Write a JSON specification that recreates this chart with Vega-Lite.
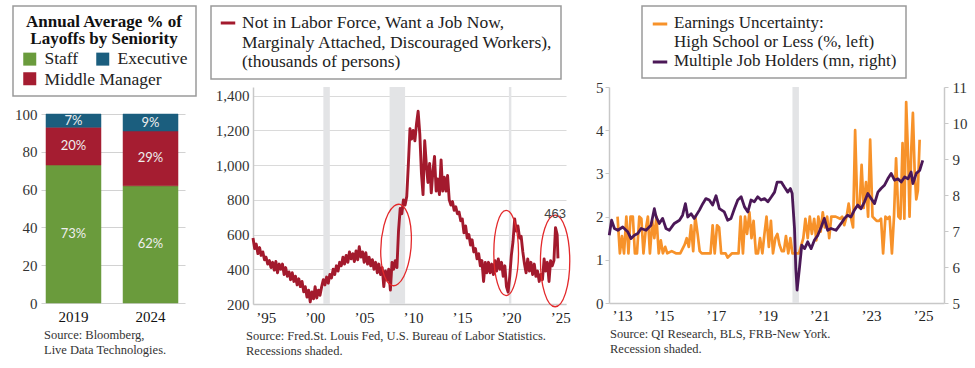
{
  "$schema": "https://vega.github.io/schema/vega-lite/v6.json",
  "padding": {"left": 12, "top": 5, "right": 5, "bottom": 5},
  "spacing": 43,
  "bounds": "flush",
  "resolve": {"scale": {"color": "independent", "stroke": "independent"}, "legend": {"color": "independent", "stroke": "independent"}},
  "config": {
    "view": {"stroke": null},
    "font": "Liberation Serif",
    "axis": {"labelFont": "Liberation Serif", "labelFontSize": 15, "labelColor": "#333333", "domainColor": "#c8c8c8", "domainWidth": 1.5, "tickColor": "#c8c8c8", "gridColor": "#dadada", "gridWidth": 1.2},
    "legend": {"labelFont": "Liberation Serif", "labelFontSize": 17.5, "labelColor": "#222222", "titleFont": "Liberation Serif", "strokeColor": "#9a9a9a", "strokeWidth": 1.5, "fillColor": "#ffffff", "cornerRadius": 0, "orient": "none", "labelLimit": 600},
    "title": {"font": "Liberation Serif", "fontSize": 12.5, "fontWeight": "normal", "color": "#333333", "anchor": "start", "orient": "bottom", "frame": "group", "offset": 5, "lineHeight": 14.5}
  },
  "hconcat": [
    {
      "width": 169,
      "height": 216,
      "title": {"text": ["Source: Bloomberg,", "Live Data Technologies."], "dx": 3},
      "data": {"values": [
        {"year": "2019", "level": "Staff", "rank": 1, "pct": 73},
        {"year": "2019", "level": "Middle Manager", "rank": 2, "pct": 20},
        {"year": "2019", "level": "Executive", "rank": 3, "pct": 7},
        {"year": "2024", "level": "Staff", "rank": 1, "pct": 62},
        {"year": "2024", "level": "Middle Manager", "rank": 2, "pct": 29},
        {"year": "2024", "level": "Executive", "rank": 3, "pct": 9}
      ]},
      "transform": [
        {"stack": "pct", "groupby": ["year"], "sort": [{"field": "rank", "order": "ascending"}], "as": ["y0", "y1"]},
        {"calculate": "(datum.y0 + datum.y1) / 2", "as": "ymid"},
        {"calculate": "datum.pct + '%'", "as": "lab"},
        {"calculate": "datum.level", "as": "tier"}
      ],
      "encoding": {
        "x": {"field": "year", "type": "nominal", "scale": {"paddingInner": 0.286, "paddingOuter": 0.24, "align": 0.135},
              "axis": {"title": null, "labelAngle": 0, "domain": false, "ticks": false, "labelPadding": 6, "labelColor": "#111111", "labelFontSize": 15}}
      },
      "layer": [
        {
          "mark": {"type": "bar", "strokeWidth": 0.5},
          "encoding": {
            "y": {"field": "y0", "type": "quantitative", "scale": {"domain": [0, 114.3], "nice": false},
                  "axis": {"title": null, "values": [0, 20, 40, 60, 80, 100], "grid": false, "domain": false, "ticks": true, "tickSize": -144, "tickColor": "#d2d2d2", "tickWidth": 1.2, "labelPadding": 148, "labelFontSize": 15, "zindex": 0}},
            "y2": {"field": "y1"},
            "color": {"field": "level", "type": "nominal",
                      "scale": {"domain": ["Staff", "Executive", "Middle Manager"], "range": ["#6a9b3c", "#1b5e7e", "#a51d31"]},
                      "legend": {"orient": "none", "legendX": -28, "legendY": -81, "direction": "horizontal",
                                 "title": ["Annual Average % of", "Layoffs by Seniority"], "titleFontSize": 17, "titleFontWeight": "bold", "titleColor": "#111111",
                                 "titleAnchor": "middle", "titleAlign": "center", "titleLineHeight": 17, "titlePadding": 2,
                                 "columns": 2, "columnPadding": 15, "rowPadding": 1,
                                 "labelExpr": "datum.label == 'Middle Manager' ? '' : datum.label",
                                 "symbolType": "square", "symbolSize": 169, "symbolStrokeWidth": 0, "symbolOpacity": 1,
                                 "labelFontSize": 17.5, "labelOffset": 6, "padding": 8}},
            "stroke": {"field": "tier", "type": "nominal",
                       "scale": {"domain": ["Middle Manager", "Staff", "Executive"], "range": ["#a51d31", "#6a9b3c", "#1b5e7e"]},
                       "legend": {"orient": "none", "legendX": -28, "legendY": -24, "direction": "horizontal", "title": null,
                                  "values": ["Middle Manager"], "strokeColor": "transparent", "fillColor": "transparent",
                                  "symbolType": "square", "symbolSize": 169, "symbolOpacity": 0, "symbolStrokeWidth": 0,
                                  "labelFontSize": 17.5, "labelOffset": 6, "padding": 8}}
          }
        },
        {
          "mark": {"type": "text", "font": "Lato", "fontSize": 13, "color": "#eeeeee"},
          "encoding": {
            "y": {"field": "ymid", "type": "quantitative"},
            "text": {"field": "lab"}
          }
        }
      ]
    },
    {
      "width": 313,
      "height": 217,
      "title": {"text": ["Source: Fred.St. Louis Fed, U.S. Bureau of Labor Statistics.", "Recessions shaded."], "dx": -7},
      "layer": [
        {
          "data": {"values": [{"s": 2001.17, "e": 2001.83}, {"s": 2007.92, "e": 2009.5}, {"s": 2020.08, "e": 2020.33}]},
          "mark": {"type": "rect", "color": "#e3e4e6"},
          "encoding": {
            "x": {"field": "s", "type": "quantitative", "scale": {"domain": [1994, 2025.9], "nice": false, "zero": false},
                  "axis": {"title": null, "values": [1995, 2000, 2005, 2010, 2015, 2020, 2025], "labelExpr": "'\u2019' + slice(format(datum.value, 'd'), 2)", "grid": false, "ticks": false, "labelPadding": 6, "labelOffset": 3, "labelColor": "#222222"}},
            "x2": {"field": "e"}
          }
        },
        {
          "data": {"values": [
            {"t":1994.0,"v":580},{"t":1994.17,"v":520},{"t":1994.33,"v":545},{"t":1994.5,"v":490},{"t":1994.67,"v":525},{"t":1994.83,"v":480},
            {"t":1995.0,"v":500},{"t":1995.17,"v":455},{"t":1995.33,"v":470},{"t":1995.5,"v":430},{"t":1995.67,"v":450},{"t":1995.83,"v":410},
            {"t":1996.0,"v":440},{"t":1996.17,"v":395},{"t":1996.33,"v":445},{"t":1996.5,"v":380},{"t":1996.67,"v":430},{"t":1996.83,"v":400},
            {"t":1997.0,"v":430},{"t":1997.17,"v":370},{"t":1997.33,"v":410},{"t":1997.5,"v":360},{"t":1997.67,"v":385},{"t":1997.83,"v":340},
            {"t":1998.0,"v":380},{"t":1998.17,"v":330},{"t":1998.33,"v":360},{"t":1998.5,"v":310},{"t":1998.67,"v":345},{"t":1998.83,"v":300},
            {"t":1999.0,"v":330},{"t":1999.17,"v":270},{"t":1999.33,"v":300},{"t":1999.5,"v":240},{"t":1999.67,"v":280},{"t":1999.83,"v":212},
            {"t":2000.0,"v":270},{"t":2000.17,"v":230},{"t":2000.33,"v":300},{"t":2000.5,"v":235},{"t":2000.67,"v":280},{"t":2000.83,"v":250},
            {"t":2001.0,"v":300},{"t":2001.17,"v":340},{"t":2001.33,"v":310},{"t":2001.5,"v":355},{"t":2001.67,"v":320},{"t":2001.83,"v":370},
            {"t":2002.0,"v":350},{"t":2002.17,"v":400},{"t":2002.33,"v":370},{"t":2002.5,"v":420},{"t":2002.67,"v":390},{"t":2002.83,"v":440},
            {"t":2003.0,"v":420},{"t":2003.17,"v":470},{"t":2003.33,"v":430},{"t":2003.5,"v":480},{"t":2003.67,"v":440},{"t":2003.83,"v":500},
            {"t":2004.0,"v":460},{"t":2004.17,"v":490},{"t":2004.33,"v":445},{"t":2004.5,"v":505},{"t":2004.67,"v":455},{"t":2004.83,"v":530},
            {"t":2005.0,"v":470},{"t":2005.17,"v":500},{"t":2005.33,"v":440},{"t":2005.5,"v":495},{"t":2005.67,"v":430},{"t":2005.83,"v":470},
            {"t":2006.0,"v":420},{"t":2006.17,"v":455},{"t":2006.33,"v":400},{"t":2006.5,"v":440},{"t":2006.67,"v":380},{"t":2006.83,"v":430},
            {"t":2007.0,"v":370},{"t":2007.17,"v":410},{"t":2007.33,"v":300},{"t":2007.5,"v":390},{"t":2007.67,"v":340},{"t":2007.83,"v":400},
            {"t":2008.0,"v":280},{"t":2008.17,"v":440},{"t":2008.33,"v":400},{"t":2008.5,"v":450},{"t":2008.67,"v":410},{"t":2008.83,"v":620},
            {"t":2009.0,"v":750},{"t":2009.17,"v":720},{"t":2009.33,"v":800},{"t":2009.5,"v":770},{"t":2009.67,"v":820},{"t":2009.83,"v":1000},
            {"t":2010.0,"v":1210},{"t":2010.17,"v":1150},{"t":2010.33,"v":1200},{"t":2010.5,"v":1140},{"t":2010.67,"v":1240},{"t":2010.83,"v":1310},
            {"t":2011.0,"v":1180},{"t":2011.17,"v":950},{"t":2011.33,"v":830},{"t":2011.5,"v":1140},{"t":2011.67,"v":1000},{"t":2011.83,"v":900},
            {"t":2012.0,"v":1010},{"t":2012.17,"v":840},{"t":2012.33,"v":960},{"t":2012.5,"v":1050},{"t":2012.67,"v":850},{"t":2012.83,"v":920},
            {"t":2013.0,"v":830},{"t":2013.17,"v":1030},{"t":2013.33,"v":850},{"t":2013.5,"v":930},{"t":2013.67,"v":850},{"t":2013.83,"v":940},
            {"t":2014.0,"v":800},{"t":2014.17,"v":770},{"t":2014.33,"v":790},{"t":2014.5,"v":740},{"t":2014.67,"v":760},{"t":2014.83,"v":720},
            {"t":2015.0,"v":730},{"t":2015.17,"v":680},{"t":2015.33,"v":690},{"t":2015.5,"v":610},{"t":2015.67,"v":650},{"t":2015.83,"v":580},
            {"t":2016.0,"v":600},{"t":2016.17,"v":540},{"t":2016.33,"v":570},{"t":2016.5,"v":500},{"t":2016.67,"v":520},{"t":2016.83,"v":460},
            {"t":2017.0,"v":490},{"t":2017.17,"v":420},{"t":2017.33,"v":450},{"t":2017.5,"v":330},{"t":2017.67,"v":440},{"t":2017.83,"v":380},
            {"t":2018.0,"v":440},{"t":2018.17,"v":380},{"t":2018.33,"v":430},{"t":2018.5,"v":370},{"t":2018.67,"v":450},{"t":2018.83,"v":390},
            {"t":2019.0,"v":460},{"t":2019.17,"v":400},{"t":2019.33,"v":440},{"t":2019.5,"v":360},{"t":2019.67,"v":420},{"t":2019.83,"v":300},
            {"t":2020.0,"v":268},{"t":2020.17,"v":360},{"t":2020.33,"v":480},{"t":2020.5,"v":560},{"t":2020.67,"v":690},{"t":2020.83,"v":620},
            {"t":2021.0,"v":650},{"t":2021.17,"v":580},{"t":2021.33,"v":590},{"t":2021.5,"v":500},{"t":2021.67,"v":430},{"t":2021.83,"v":380},
            {"t":2022.0,"v":460},{"t":2022.17,"v":390},{"t":2022.33,"v":440},{"t":2022.5,"v":370},{"t":2022.67,"v":430},{"t":2022.83,"v":360},
            {"t":2023.0,"v":390},{"t":2023.17,"v":330},{"t":2023.33,"v":370},{"t":2023.5,"v":340},{"t":2023.67,"v":460},{"t":2023.83,"v":390},
            {"t":2024.0,"v":440},{"t":2024.17,"v":330},{"t":2024.33,"v":450},{"t":2024.5,"v":420},{"t":2024.67,"v":450},{"t":2024.83,"v":640},
            {"t":2025.0,"v":600},{"t":2025.08,"v":463}
          ]},
          "mark": {"type": "line", "strokeWidth": 2.9, "strokeJoin": "round"},
          "encoding": {
            "x": {"field": "t", "type": "quantitative",
                  "axis": {"title": null, "values": [1995, 2000, 2005, 2010, 2015, 2020, 2025], "labelExpr": "'\u2019' + slice(format(datum.value, 'd'), 2)", "grid": false, "ticks": false, "labelPadding": 6, "labelOffset": 3, "labelColor": "#222222"}},
            "y": {"field": "v", "type": "quantitative", "scale": {"domain": [200, 1450], "nice": false, "zero": false},
                  "axis": {"title": null, "values": [200, 400, 600, 800, 1000, 1200, 1400], "format": ",d", "grid": true, "ticks": false, "domain": true, "labelPadding": 4, "labelOverlap": false}},
            "color": {"datum": "Not in Labor Force, Want a Job Now,|Marginaly Attached, Discouraged Workers),|(thousands of persons)", "type": "nominal",
                      "scale": {"range": ["#a31a2d"]},
                      "legend": {"orient": "none", "legendX": -42, "legendY": -81, "title": null,
                                 "labelExpr": "split(datum.label, '|')", "labelBaseline": "top", "labelLineHeight": 19.5,
                                 "symbolType": "stroke", "symbolStrokeWidth": 3, "symbolSize": 210, "labelFontSize": 17.5, "labelOffset": 5,
                                 "padding": 8, "encoding": {"labels": {"dy": {"value": -9}}}}}
          }
        },
        {
          "data": {"values": [
            {"t": 2008.58, "v": 540, "oval": "a"},
            {"t": 2019.8, "v": 494, "oval": "b"},
            {"t": 2024.79, "v": 448, "oval": "c"}
          ]},
          "mark": {"type": "point", "filled": false, "color": "#e3292b", "strokeWidth": 1.3, "opacity": 1},
          "encoding": {
            "x": {"field": "t", "type": "quantitative",
                  "axis": {"title": null, "values": [1995, 2000, 2005, 2010, 2015, 2020, 2025], "labelExpr": "'\u2019' + slice(format(datum.value, 'd'), 2)", "grid": false, "ticks": false, "labelPadding": 6, "labelOffset": 3, "labelColor": "#222222"}},
            "y": {"field": "v", "type": "quantitative",
                  "axis": {"title": null, "values": [200, 400, 600, 800, 1000, 1200, 1400], "format": ",d", "grid": true, "ticks": false, "domain": true, "labelPadding": 4, "labelOverlap": false}},
            "shape": {"field": "oval", "type": "nominal", "legend": null,
                      "scale": {"domain": ["a", "b", "c"], "range": ["M-0.05,-1A0.37,1,4,1,1,0.05,1A0.37,1,4,1,1,-0.05,-1Z", "M0,-1A0.29,1,0,1,1,0,1A0.29,1,0,1,1,0,-1Z", "M0,-1A0.32,1,0,1,1,0,1A0.32,1,0,1,1,0,-1Z"]}},
            "size": {"field": "oval", "type": "nominal", "legend": null,
                     "scale": {"domain": ["a", "b", "c"], "range": [6100, 8400, 6200]}}
          }
        },
        {
          "data": {"values": [{"t": 2024.79, "v": 448, "label": "463"}]},
          "mark": {"type": "text", "font": "Liberation Sans", "fontSize": 13, "color": "#444444", "dy": -47},
          "encoding": {
            "x": {"field": "t", "type": "quantitative",
                  "axis": {"title": null, "values": [1995, 2000, 2005, 2010, 2015, 2020, 2025], "labelExpr": "'\u2019' + slice(format(datum.value, 'd'), 2)", "grid": false, "ticks": false, "labelPadding": 6, "labelOffset": 3, "labelColor": "#222222"}},
            "y": {"field": "v", "type": "quantitative",
                  "axis": {"title": null, "values": [200, 400, 600, 800, 1000, 1200, 1400], "format": ",d", "grid": true, "ticks": false, "domain": true, "labelPadding": 4, "labelOverlap": false}},
            "text": {"field": "label"}
          }
        }
      ]
    },
    {
      "width": 335,
      "height": 216,
      "title": {"text": ["Source: QI Research, BLS, FRB-New York.", "Recession shaded."], "dx": 1},
      "layer": [
        {
          "data": {"values": [{"s": 2020.08, "e": 2020.33}]},
          "mark": {"type": "rect", "color": "#e3e4e6"},
          "encoding": {
            "x": {"field": "s", "type": "quantitative", "scale": {"domain": [2013, 2025.93], "nice": false, "zero": false},
                  "axis": {"title": null, "values": [2013, 2015, 2017, 2019, 2021, 2023, 2025], "labelExpr": "'\u2019' + slice(format(datum.value, 'd'), 2)", "grid": false, "ticks": false, "labelPadding": 5, "labelOffset": 3, "labelColor": "#222222"}},
            "x2": {"field": "e"}
          }
        },
        {
          "data": {"values": [
            {"t":2013.33,"v":2.0},{"t":2013.42,"v":1.15},{"t":2013.5,"v":1.55},{"t":2013.58,"v":1.15},{"t":2013.67,"v":2.0},{"t":2013.75,"v":1.15},
            {"t":2013.83,"v":2.0},{"t":2013.92,"v":2.0},{"t":2014.0,"v":1.15},{"t":2014.08,"v":1.15},{"t":2014.17,"v":2.0},{"t":2014.25,"v":1.95},
            {"t":2014.33,"v":1.15},{"t":2014.42,"v":1.7},{"t":2014.5,"v":2.0},{"t":2014.58,"v":1.15},{"t":2014.67,"v":1.9},{"t":2014.75,"v":1.5},
            {"t":2014.83,"v":2.0},{"t":2014.92,"v":1.15},{"t":2015.0,"v":1.45},{"t":2015.08,"v":1.15},{"t":2015.17,"v":1.3},{"t":2015.25,"v":1.15},
            {"t":2015.42,"v":1.2},{"t":2015.58,"v":1.15},{"t":2015.75,"v":1.15},{"t":2015.92,"v":1.35},{"t":2016.0,"v":1.5},{"t":2016.08,"v":1.3},
            {"t":2016.17,"v":1.8},{"t":2016.25,"v":1.2},{"t":2016.33,"v":2.0},{"t":2016.42,"v":1.6},{"t":2016.5,"v":1.2},{"t":2016.58,"v":1.15},
            {"t":2016.75,"v":1.15},{"t":2016.92,"v":1.15},{"t":2017.0,"v":1.8},{"t":2017.08,"v":1.15},{"t":2017.17,"v":1.8},{"t":2017.25,"v":1.75},
            {"t":2017.33,"v":1.15},{"t":2017.5,"v":1.15},{"t":2017.58,"v":1.05},{"t":2017.75,"v":1.15},{"t":2017.92,"v":1.15},{"t":2018.0,"v":1.15},
            {"t":2018.08,"v":2.0},{"t":2018.17,"v":1.15},{"t":2018.25,"v":2.0},{"t":2018.33,"v":1.6},{"t":2018.42,"v":2.1},{"t":2018.5,"v":1.5},
            {"t":2018.58,"v":1.9},{"t":2018.67,"v":1.15},{"t":2018.75,"v":1.15},{"t":2018.83,"v":1.5},{"t":2018.92,"v":1.15},{"t":2019.0,"v":1.6},
            {"t":2019.08,"v":2.0},{"t":2019.17,"v":1.3},{"t":2019.25,"v":1.9},{"t":2019.33,"v":1.15},{"t":2019.42,"v":1.5},{"t":2019.5,"v":1.6},
            {"t":2019.58,"v":1.35},{"t":2019.67,"v":1.2},{"t":2019.75,"v":1.2},{"t":2019.83,"v":1.55},{"t":2019.92,"v":1.15},{"t":2020.0,"v":1.5},
            {"t":2020.08,"v":1.15},{"t":2020.17,"v":1.15},{"t":2020.33,"v":1.15},{"t":2020.5,"v":1.5},{"t":2020.58,"v":1.95},{"t":2020.67,"v":1.5},
            {"t":2020.75,"v":2.0},{"t":2020.83,"v":1.6},{"t":2020.92,"v":1.95},{"t":2021.0,"v":1.45},{"t":2021.08,"v":2.0},{"t":2021.17,"v":1.65},
            {"t":2021.25,"v":2.1},{"t":2021.33,"v":1.75},{"t":2021.42,"v":2.0},{"t":2021.5,"v":1.5},{"t":2021.58,"v":2.0},{"t":2021.75,"v":2.0},
            {"t":2021.92,"v":1.95},{"t":2022.0,"v":2.0},{"t":2022.08,"v":1.8},{"t":2022.17,"v":2.0},{"t":2022.25,"v":2.3},{"t":2022.33,"v":2.0},
            {"t":2022.42,"v":1.75},{"t":2022.5,"v":4.0},{"t":2022.58,"v":2.3},{"t":2022.67,"v":2.2},{"t":2022.75,"v":3.2},{"t":2022.83,"v":2.2},
            {"t":2022.92,"v":2.8},{"t":2023.0,"v":2.0},{"t":2023.08,"v":3.78},{"t":2023.17,"v":2.0},{"t":2023.25,"v":1.95},{"t":2023.33,"v":1.9},
            {"t":2023.42,"v":1.9},{"t":2023.5,"v":1.95},{"t":2023.58,"v":1.15},{"t":2023.67,"v":2.0},{"t":2023.75,"v":1.95},{"t":2023.83,"v":2.0},
            {"t":2023.92,"v":1.15},{"t":2024.0,"v":2.0},{"t":2024.08,"v":3.35},{"t":2024.17,"v":2.0},{"t":2024.25,"v":1.95},{"t":2024.33,"v":3.7},
            {"t":2024.4,"v":1.95},{"t":2024.47,"v":4.65},{"t":2024.55,"v":3.3},{"t":2024.6,"v":2.0},{"t":2024.67,"v":3.6},{"t":2024.73,"v":4.4},
            {"t":2024.8,"v":3.0},{"t":2024.86,"v":2.4},{"t":2024.92,"v":2.6},{"t":2024.99,"v":3.78}
          ]},
          "mark": {"type": "line", "strokeWidth": 2.7, "strokeJoin": "round"},
          "encoding": {
            "x": {"field": "t", "type": "quantitative"},
            "y": {"field": "v", "type": "quantitative", "scale": {"domain": [0, 5], "nice": false},
                  "axis": {"title": null, "orient": "left", "values": [0, 1, 2, 3, 4, 5], "grid": false, "ticks": true, "tickSize": 4, "labelPadding": 2, "labelFontSize": 15}},
            "color": {"datum": "Earnings Uncertainty:|High School or Less (%, left)", "type": "nominal",
                      "scale": {"domain": ["Earnings Uncertainty:|High School or Less (%, left)", "Multiple Job Holders (mn, right)"], "range": ["#f7922a", "#4b1857"]},
                      "legend": {"orient": "none", "legendX": 33, "legendY": -81, "title": null,
                                 "labelExpr": "split(datum.label, '|')", "labelBaseline": "top", "labelLineHeight": 20,
                                 "symbolType": "stroke", "symbolStrokeWidth": 3, "symbolSize": 210, "labelFontSize": 17, "labelOffset": 5,
                                 "rowPadding": 2, "padding": 9, "encoding": {"labels": {"dy": {"value": -9}}}}}
          }
        },
        {
          "data": {"values": [
            {"t":2013.01,"w":6.88},{"t":2013.1,"w":7.3},{"t":2013.21,"w":7.07},{"t":2013.34,"w":7.02},{"t":2013.53,"w":7.11},{"t":2013.72,"w":6.98},
            {"t":2013.85,"w":6.79},{"t":2013.98,"w":6.88},{"t":2014.11,"w":6.93},{"t":2014.24,"w":7.07},{"t":2014.43,"w":7.02},{"t":2014.62,"w":7.16},
            {"t":2014.75,"w":7.62},{"t":2014.82,"w":7.39},{"t":2014.94,"w":7.21},{"t":2015.07,"w":7.35},{"t":2015.2,"w":7.07},{"t":2015.33,"w":7.02},
            {"t":2015.52,"w":7.21},{"t":2015.72,"w":7.3},{"t":2015.84,"w":7.44},{"t":2015.95,"w":7.76},{"t":2016.04,"w":7.39},{"t":2016.17,"w":7.48},
            {"t":2016.29,"w":7.35},{"t":2016.49,"w":7.58},{"t":2016.62,"w":7.76},{"t":2016.74,"w":7.9},{"t":2016.87,"w":7.86},{"t":2017.0,"w":7.72},
            {"t":2017.13,"w":7.98},{"t":2017.26,"w":7.62},{"t":2017.45,"w":7.53},{"t":2017.58,"w":7.3},{"t":2017.71,"w":7.35},{"t":2017.84,"w":7.62},
            {"t":2017.97,"w":7.86},{"t":2018.1,"w":7.95},{"t":2018.23,"w":7.67},{"t":2018.36,"w":7.53},{"t":2018.48,"w":7.86},{"t":2018.61,"w":7.81},
            {"t":2018.74,"w":7.95},{"t":2018.87,"w":7.86},{"t":2019.0,"w":7.9},{"t":2019.13,"w":7.81},{"t":2019.27,"w":7.95},{"t":2019.39,"w":8.08},
            {"t":2019.49,"w":8.36},{"t":2019.65,"w":8.36},{"t":2019.77,"w":8.22},{"t":2019.9,"w":8.08},{"t":2020.0,"w":8.18},{"t":2020.07,"w":8.04},
            {"t":2020.16,"w":7.07},{"t":2020.21,"w":5.96},{"t":2020.26,"w":5.36},{"t":2020.35,"w":5.96},{"t":2020.44,"w":6.61},{"t":2020.55,"w":6.51},
            {"t":2020.67,"w":6.7},{"t":2020.8,"w":6.51},{"t":2020.93,"w":6.75},{"t":2021.06,"w":6.88},{"t":2021.19,"w":7.11},{"t":2021.31,"w":7.35},
            {"t":2021.44,"w":7.02},{"t":2021.57,"w":7.07},{"t":2021.76,"w":7.02},{"t":2021.96,"w":7.21},{"t":2022.09,"w":7.35},{"t":2022.21,"w":7.44},
            {"t":2022.34,"w":7.39},{"t":2022.47,"w":7.58},{"t":2022.6,"w":7.72},{"t":2022.73,"w":7.62},{"t":2022.86,"w":7.81},{"t":2022.99,"w":8.04},
            {"t":2023.12,"w":7.9},{"t":2023.25,"w":7.76},{"t":2023.38,"w":8.08},{"t":2023.5,"w":8.18},{"t":2023.63,"w":8.27},{"t":2023.76,"w":8.45},
            {"t":2023.89,"w":8.6},{"t":2024.02,"w":8.41},{"t":2024.15,"w":8.45},{"t":2024.28,"w":8.36},{"t":2024.41,"w":8.5},{"t":2024.54,"w":8.45},
            {"t":2024.66,"w":8.64},{"t":2024.73,"w":8.32},{"t":2024.86,"w":8.6},{"t":2024.99,"w":8.68},{"t":2025.11,"w":8.96}
          ]},
          "mark": {"type": "line", "strokeWidth": 2.8, "strokeJoin": "round"},
          "encoding": {
            "x": {"field": "t", "type": "quantitative"},
            "y": {"field": "w", "type": "quantitative", "scale": {"domain": [5, 11], "nice": false, "zero": false},
                  "axis": {"title": null, "orient": "right", "values": [5, 6, 7, 8, 9, 10, 11], "grid": false, "ticks": true, "tickSize": 4, "labelPadding": 4, "labelFontSize": 15}},
            "color": {"datum": "Multiple Job Holders (mn, right)", "type": "nominal"}
          }
        }
      ],
      "resolve": {"scale": {"y": "independent"}, "axis": {"y": "independent"}}
    }
  ]
}
